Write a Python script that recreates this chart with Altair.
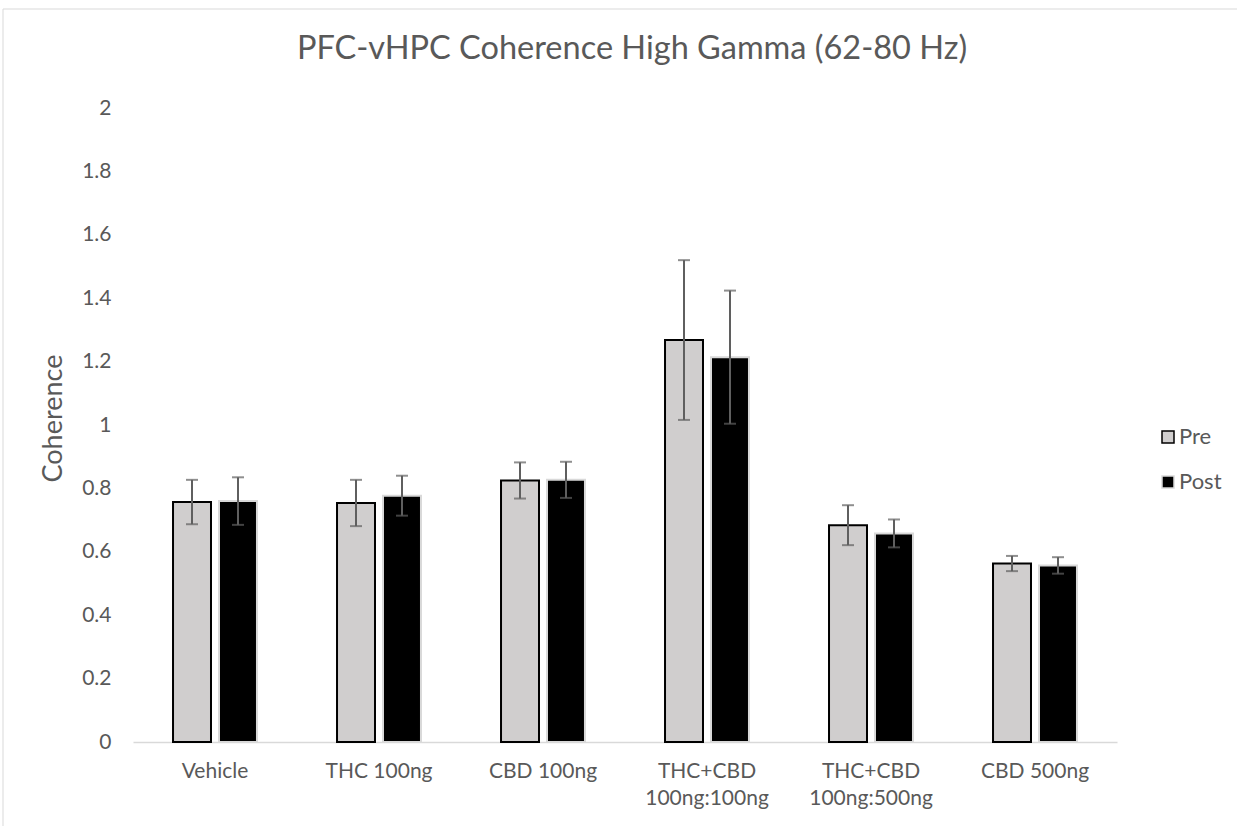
import altair as alt
import pandas as pd

categories = ["Vehicle", "THC 100ng", "CBD 100ng", "THC+CBD\n100ng:100ng", "THC+CBD\n100ng:500ng", "CBD 500ng"]
periods = ["Pre", "Post"]
pre_mean = [0.757, 0.754, 0.825, 1.268, 0.684, 0.563]
post_mean = [0.760, 0.777, 0.827, 1.214, 0.658, 0.557]
pre_err = [0.070, 0.073, 0.057, 0.252, 0.063, 0.024]
post_err = [0.075, 0.063, 0.057, 0.210, 0.044, 0.026]
y_ticks = [0, 0.2, 0.4, 0.6, 0.8, 1.0, 1.2, 1.4, 1.6, 1.8, 2.0]
title_text = ["PFC-vHPC Coherence High Gamma (62-80 Hz)"]

rows = []
for i, c in enumerate(categories):
    rows.append({"cat": c, "period": "Pre", "mean": pre_mean[i], "lo": pre_mean[i] - pre_err[i], "hi": pre_mean[i] + pre_err[i]})
    rows.append({"cat": c, "period": "Post", "mean": post_mean[i], "lo": post_mean[i] - post_err[i], "hi": post_mean[i] + post_err[i]})
df = pd.DataFrame(rows)

FONT = "Lato"
TXT = "#595959"

x_enc = alt.X(
    "cat:N", sort=categories,
    scale=alt.Scale(paddingInner=0.488, paddingOuter=0.244),
    axis=alt.Axis(title=None, labelAngle=0, labelExpr="split(datum.label, '\\n')",
                  ticks=False, domainColor="#D9D9D9", domainWidth=1.5,
                  labelPadding=18, labelFontSize=21, labelLineHeight=27,
                  labelColor=TXT, labelFont=FONT),
)
xo_enc = alt.XOffset("period:N", sort=periods, scale=alt.Scale(paddingInner=0.174, paddingOuter=0))

base = alt.Chart(df)

bars = base.mark_bar(strokeWidth=2).encode(
    x=x_enc,
    xOffset=xo_enc,
    y=alt.Y("mean:Q", stack=None, scale=alt.Scale(domain=[0, 2], nice=False),
            axis=alt.Axis(title="Coherence", values=y_ticks, format="~g", domain=False, ticks=False,
                          grid=False, labelPadding=22, labelFontSize=21, labelColor=TXT, labelFont=FONT,
                          titleFontSize=27, titleFont=FONT, titleColor=TXT, titleFontWeight="normal",
                          titlePadding=14, titleY=310)),
    fill=alt.Fill("period:N", sort=periods,
                  scale=alt.Scale(domain=periods, range=["#D0CECE", "#000000"]),
                  legend=alt.Legend(title=None)),
    stroke=alt.Stroke("period:N", sort=periods,
                      scale=alt.Scale(domain=periods, range=["#000000", "#D9D9D9"]),
                      legend=alt.Legend(title=None)),
)

rules = base.mark_rule(color="#5f5f5f", strokeWidth=2).encode(
    x=alt.X("cat:N", sort=categories), xOffset=xo_enc,
    y="lo:Q", y2="hi:Q",
)
caps_lo = base.mark_tick(color="#5f5f5f", orient="horizontal", size=12, thickness=2).encode(
    x=alt.X("cat:N", sort=categories), xOffset=xo_enc, y="lo:Q",
)
caps_hi = base.mark_tick(color="#5f5f5f", orient="horizontal", size=12, thickness=2).encode(
    x=alt.X("cat:N", sort=categories), xOffset=xo_enc, y="hi:Q",
)

frame = alt.Chart(pd.DataFrame({"f": [0]})).mark_rect(fill="transparent", stroke="#D9D9D9", strokeWidth=1).encode(
    x=alt.value(-130), x2=alt.value(1120), y=alt.value(-99), y2=alt.value(730),
)

title = alt.Chart(pd.DataFrame({"t": title_text})).mark_text(
    font=FONT, fontSize=32.5, color=TXT, align="center", baseline="alphabetic",
).encode(text="t:N", x=alt.value(499), y=alt.value(-49))

chart = alt.layer(frame, bars, rules, caps_lo, caps_hi, title).properties(
    width=984, height=634,
    autosize=alt.AutoSizeParams(type="none"),
    padding={"left": 133, "top": 108, "right": 120, "bottom": 84},
).configure_view(stroke=None).configure_legend(
    orient="none", legendX=1024, legendY=318, symbolType="square", symbolSize=144,
    symbolStrokeWidth=1.5, labelFontSize=22, labelColor=TXT, labelFont=FONT,
    rowPadding=23, labelOffset=0,
)

chart.save("out.html", embed_options={"renderer": "svg", "actions": False})
